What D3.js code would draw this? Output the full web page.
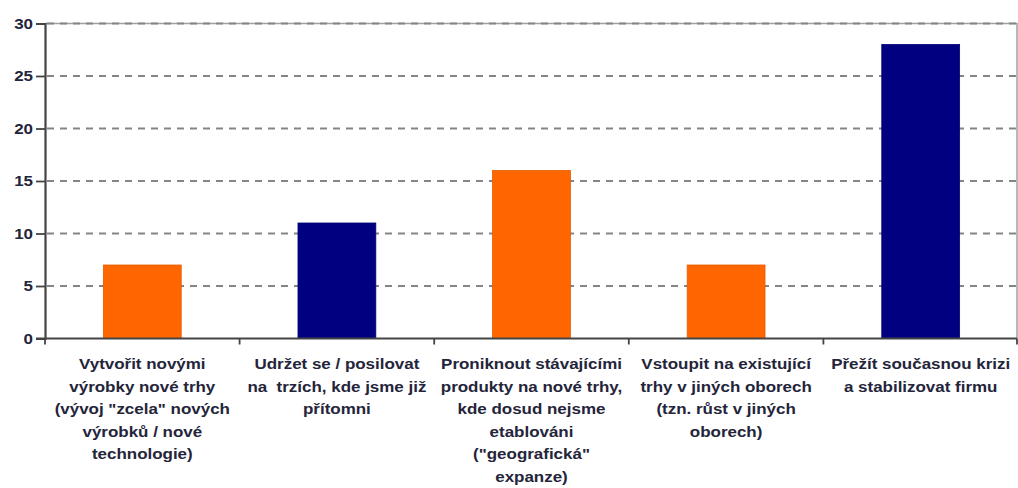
<!DOCTYPE html>
<html>
<head>
<meta charset="utf-8">
<script src="https://cdn.jsdelivr.net/npm/d3@7"></script>
<style>
  html, body { margin: 0; padding: 0; background: #fff; }
  svg { display: block; }
  text { font-family: "Liberation Sans", Arial, sans-serif; font-weight: bold; white-space: pre; }
</style>
</head>
<body>
<svg id="chart" width="1018" height="488"></svg>
<script>
// Category labels, one entry per bar, already split into the lines shown under the axis
const categories = [
  ["Vytvořit novými", "výrobky nové trhy", "(vývoj \"zcela\" nových", "výrobků / nové", "technologie)"],
  ["Udržet se / posilovat", "na  trzích, kde jsme již", "přítomni"],
  ["Proniknout stávajícími", "produkty na nové trhy,", "kde dosud nejsme", "etablováni", "(\"geografická\"", "expanze)"],
  ["Vstoupit na existující", "trhy v jiných oborech", "(tzn. růst v jiných", "oborech)"],
  ["Přežít současnou krizi", "a stabilizovat firmu"]
];
const values = [7, 11, 16, 7, 28];
const barColors = ["#ff6600", "#000080", "#ff6600", "#ff6600", "#000080"];
const yTicks = [0, 5, 10, 15, 20, 25, 30];

const svg = d3.select("#chart");
const plotLeft = 45, plotRight = 1017, plotTop = 23.5, plotBottom = 338.5;
const textStretch = 1.17;   // the type is set slightly wide
const textColor = "#24243a";

const x = d3.scaleBand()
  .domain(d3.range(categories.length))
  .range([plotLeft, plotRight + 1])
  .paddingInner(0.6)
  .paddingOuter(0.3);

const y = d3.scaleLinear().domain([0, 30]).range([plotBottom, plotTop]);

// plot frame (top and right edges)
svg.append("path")
  .attr("d", `M${plotLeft},${plotTop}H${plotRight}V${plotBottom}`)
  .attr("fill", "none")
  .attr("stroke", "#a0a0a0")
  .attr("stroke-width", 1.5);

// dashed horizontal gridlines
svg.append("g")
  .selectAll("line")
  .data(yTicks.filter(t => t > 0))
  .join("line")
  .attr("x1", plotLeft + 2)
  .attr("x2", plotRight)
  .attr("y1", d => y(d))
  .attr("y2", d => y(d))
  .attr("stroke", "#858585")
  .attr("stroke-width", 2.2)
  .attr("stroke-dasharray", "7,6");

// bars
svg.append("g")
  .selectAll("rect")
  .data(values)
  .join("rect")
  .attr("x", (d, i) => x(i))
  .attr("width", x.bandwidth())
  .attr("y", d => y(d))
  .attr("height", d => y(0) - y(d))
  .attr("fill", (d, i) => barColors[i])
  .attr("stroke", (d, i) => d3.color(barColors[i]).darker(0.3))
  .attr("stroke-width", 0.8);

// y axis
const tickLen = 9, tickPad = 3;
const yAxis = d3.axisLeft(y).tickValues(yTicks).tickSize(tickLen).tickPadding(tickPad);
const gy = svg.append("g").attr("transform", `translate(${plotLeft},0)`).call(yAxis);
gy.select(".domain").attr("stroke", "#444").attr("stroke-width", 2.2);
gy.selectAll(".tick line").attr("stroke", "#444").attr("stroke-width", 1.8);
gy.selectAll(".tick text")
  .attr("x", -(tickLen + tickPad) / textStretch)
  .attr("transform", `scale(${textStretch},1)`)
  .attr("fill", textColor)
  .style("font-size", "14.5px")
  .style("font-family", "'Liberation Sans', Arial, sans-serif")
  .style("font-weight", "bold");

// x axis baseline with ticks between categories
const boundaries = d3.range(categories.length + 1).map(i => plotLeft + i * x.step());
svg.append("line")
  .attr("x1", plotLeft - tickLen).attr("x2", plotRight)
  .attr("y1", plotBottom).attr("y2", plotBottom)
  .attr("stroke", "#444").attr("stroke-width", 2);
svg.append("g")
  .selectAll("line")
  .data(boundaries)
  .join("line")
  .attr("x1", d => Math.min(d, plotRight))
  .attr("x2", d => Math.min(d, plotRight))
  .attr("y1", plotBottom)
  .attr("y2", plotBottom + 6)
  .attr("stroke", "#444")
  .attr("stroke-width", 1.8);

// category labels
const labels = svg.append("g")
  .selectAll("g")
  .data(categories)
  .join("g")
  .attr("transform", (d, i) => `translate(${x(i) + x.bandwidth() / 2},369) scale(${textStretch},1)`)
  .append("text")
  .attr("text-anchor", "middle")
  .attr("xml:space", "preserve")
  .attr("fill", textColor)
  .style("font-size", "14.5px");
labels.selectAll("tspan")
  .data(d => d)
  .join("tspan")
  .attr("x", 0)
  .attr("dy", (d, i) => i === 0 ? 0 : 22.6)
  .text(d => d);
</script>
</body>
</html>
